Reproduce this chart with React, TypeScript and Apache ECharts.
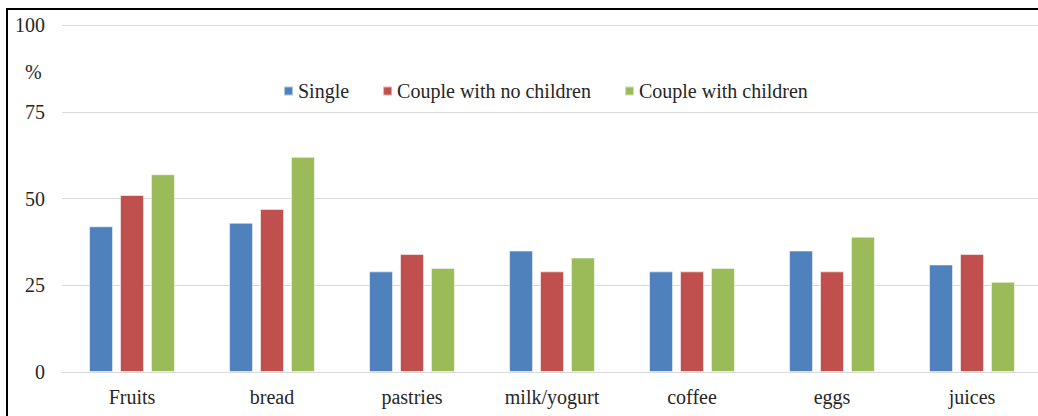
import React, { useEffect, useRef } from "react";
import * as echarts from "echarts";

const categories = ["Fruits", "bread", "pastries", "milk/yogurt", "coffee", "eggs", "juices"];
const seriesNames = ["Single", "Couple with no children", "Couple with children"];
const single = [42, 43, 29, 35, 29, 35, 31];
const coupleNoChildren = [51, 47, 34, 29, 29, 29, 34];
const coupleWithChildren = [57, 62, 30, 33, 30, 39, 26];
const colors = ["#4F81BD", "#C0504D", "#9BBB59"];
const yTicks = { min: 0, max: 100, interval: 25 };

const FONT = "Liberation Serif";
const TEXT = "#262626";

export default function App() {
  const ref = useRef<HTMLDivElement>(null);
  useEffect(() => {
    if (!ref.current) return;
    const chart = echarts.init(ref.current, undefined, { renderer: "svg" });
    const values = [single, coupleNoChildren, coupleWithChildren];
    chart.setOption({
      animation: false,
      backgroundColor: "#fff",
      textStyle: { fontFamily: FONT },
      grid: { left: 62, right: 4, top: 25, bottom: 44, containLabel: false },
      legend: {
        left: 283,
        top: 81,
        padding: 0,
        icon: "rect",
        itemWidth: 9,
        itemHeight: 9,
        itemGap: 33,
        textStyle: { fontFamily: FONT, fontSize: 20, color: TEXT },
        data: seriesNames,
      },
      xAxis: {
        type: "category",
        data: categories,
        axisLine: { lineStyle: { color: "#D9D9D9", width: 1 } },
        axisTick: { show: false },
        axisLabel: { fontFamily: FONT, fontSize: 20, color: TEXT, margin: 15 },
      },
      yAxis: {
        type: "value",
        min: yTicks.min,
        max: yTicks.max,
        interval: yTicks.interval,
        axisLine: { show: false },
        axisTick: { show: false },
        splitLine: { lineStyle: { color: "#D9D9D9", width: 1 } },
        axisLabel: { fontFamily: FONT, fontSize: 20, color: TEXT, margin: 17 },
      },
      graphic: [
        {
          type: "rect",
          shape: { x: 7, y: 9, width: 1100, height: 500 },
          style: { fill: "none", stroke: "#000", lineWidth: 2 },
          silent: true,
        },
        {
          type: "text",
          left: 25,
          top: 62,
          style: { text: "%", fontFamily: FONT, fontSize: 20, fill: TEXT },
        },
      ],
      series: seriesNames.map((name, i) => ({
        name,
        type: "bar",
        data: values[i],
        barWidth: 24,
        barGap: "29%",
        itemStyle: {
          color: colors[i],
          borderColor: "rgba(255,255,255,0.55)",
          borderWidth: 1,
        },
      })),
    });
    return () => chart.dispose();
  }, []);
  return (
    <div
      ref={ref}
      style={{ position: "fixed", left: 0, top: 0, width: 1046, height: 416 }}
    />
  );
}
